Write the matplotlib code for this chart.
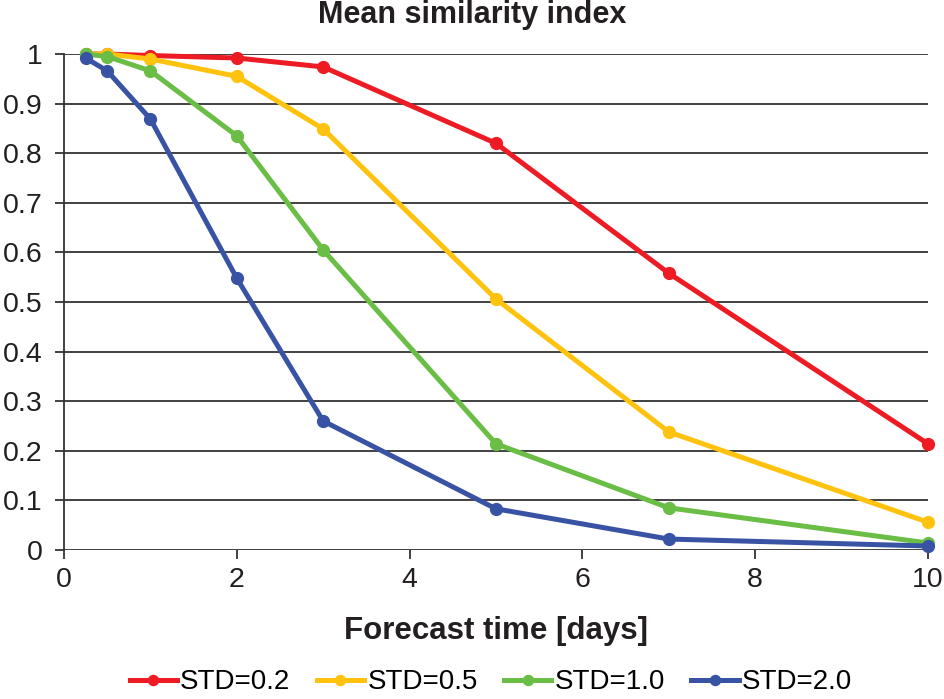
import matplotlib
matplotlib.use("Agg")
import matplotlib.pyplot as plt

plt.rcParams['font.family'] = ['Liberation Sans', 'DejaVu Sans']

x = [0.25, 0.5, 1, 2, 3, 5, 7, 10]
std02 = [1.0, 1.0, 0.997, 0.992, 0.974, 0.820, 0.558, 0.214]
std05 = [1.0, 1.0, 0.990, 0.955, 0.849, 0.506, 0.238, 0.056]
std10 = [1.0, 0.995, 0.966, 0.835, 0.605, 0.214, 0.085, 0.014]
std20 = [0.992, 0.966, 0.869, 0.548, 0.260, 0.083, 0.022, 0.008]
labels = ['STD=0.2', 'STD=0.5', 'STD=1.0', 'STD=2.0']
colors = ['#ed1c24', '#ffc20e', '#6abd45', '#3953a4']
xticks = [0, 2, 4, 6, 8, 10]
yticks = [0, 0.1, 0.2, 0.3, 0.4, 0.5, 0.6, 0.7, 0.8, 0.9, 1]
ytick_labels = ['0', '0.1', '0.2', '0.3', '0.4', '0.5', '0.6', '0.7', '0.8', '0.9', '1']

fig = plt.figure(figsize=(9.44, 6.99), dpi=100)
ax = fig.add_axes([0.0678, 0.2132, 0.9152, 0.7095])

for ys, lab, c in zip([std02, std05, std10, std20], labels, colors):
    ax.plot(x, ys, color=c, lw=3.6, marker='o', ms=8.5, label=lab, clip_on=False, zorder=3)

ax.set_xlim(0, 10)
ax.set_ylim(0, 1)
ax.set_xticks(xticks)
ax.set_xticklabels([str(v) for v in xticks])
ax.set_yticks(yticks)
ax.set_yticklabels(ytick_labels)
ax.yaxis.grid(True, color='#333333', lw=1.3)
ax.set_axisbelow(True)
for s in ['top', 'right', 'bottom']:
    ax.spines[s].set_visible(False)
ax.spines['left'].set_color('#333333')
ax.spines['left'].set_linewidth(1.3)
ax.tick_params(axis='y', length=6.5, width=1.3, color='#333333', labelsize=20.5, pad=9, labelcolor='#231f20')
ax.tick_params(axis='x', length=6.5, width=1.3, color='#333333', labelsize=20.5, pad=6, labelcolor='#231f20')

fig.text(0.5, 0.978, 'Mean similarity index', fontsize=22, fontweight='bold',
         ha='center', va='center', color='#231f20')
ax.set_xlabel('Forecast time [days]', fontsize=22.5, fontweight='bold', labelpad=16, color='#231f20')

fig.legend(loc='center', bbox_to_anchor=(0.52, 0.024), ncol=4, frameon=False, fontsize=20,
           handlelength=1.7, handletextpad=0.12, columnspacing=0.95, markerscale=0.85,
           borderpad=0.1)

fig.savefig('out.png', dpi=100)
